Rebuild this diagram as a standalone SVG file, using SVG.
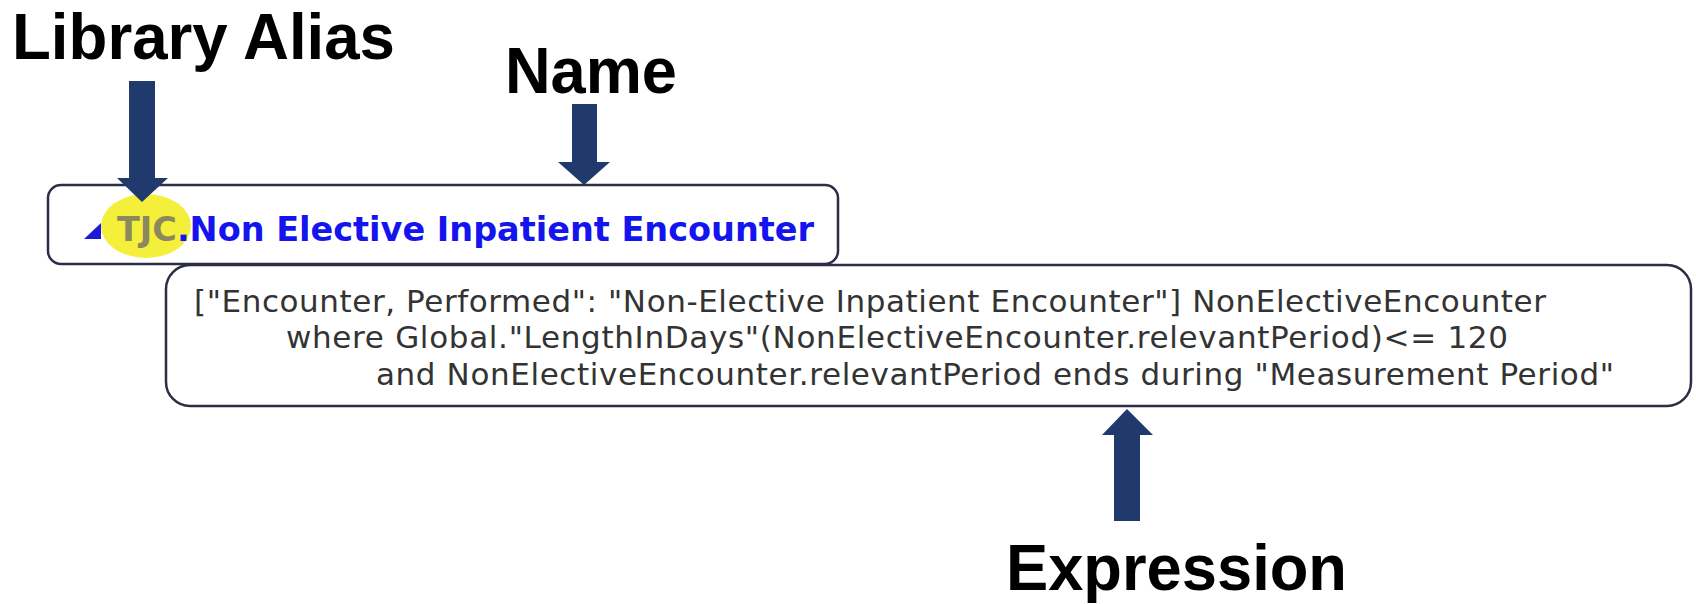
<svg xmlns="http://www.w3.org/2000/svg" width="1696" height="604" viewBox="0 0 1696 604">
  <style>
    .callout { font-family: "Liberation Sans", Arial, sans-serif; font-weight: bold; font-size: 65px; fill: #000000; }
    .box { fill: #ffffff; stroke: #2b2e44; stroke-width: 2.5; }
    .arrow { fill: #213a6e; }
    .title { font-family: "DejaVu Sans", Verdana, sans-serif; font-weight: bold; font-size: 33.5px; }
    .alias { fill: #8d875e; }
    .name { fill: #1414ee; }
    .expr { font-family: "DejaVu Sans", Verdana, sans-serif; font-size: 31px; fill: #333333; }
  </style>

  <rect x="0" y="0" width="1696" height="604" fill="#ffffff"/>

  <!-- expression body (drawn first so the definition header overlaps its top edge) -->
  <g id="expression-box">
    <rect class="box" x="166" y="265" width="1525" height="141" rx="24" ry="24"/>
    <text class="expr" x="194" y="312" textLength="1352">["Encounter, Performed": "Non-Elective Inpatient Encounter"] NonElectiveEncounter</text>
    <text class="expr" x="286" y="348" textLength="1222">where Global."LengthInDays"(NonElectiveEncounter.relevantPeriod)&lt;= 120</text>
    <text class="expr" x="376" y="385" textLength="1238">and NonElectiveEncounter.relevantPeriod ends during "Measurement Period"</text>
  </g>

  <!-- definition header: alias + name -->
  <g id="definition-box">
    <rect class="box" x="48" y="185" width="790" height="79" rx="13" ry="13"/>
    <polygon points="84,239 101,239 101,223" fill="#1a1ad8"/>
    <ellipse cx="146" cy="226" rx="45" ry="32" fill="#f4ef3a"/>
    <text class="title" x="117" y="241" textLength="697"><tspan class="alias">TJC</tspan><tspan class="name">.Non Elective Inpatient Encounter</tspan></text>
  </g>

  <!-- callout labels -->
  <g id="label-library-alias">
    <text class="callout" x="12" y="59" textLength="383" lengthAdjust="spacingAndGlyphs">Library Alias</text>
  </g>
  <g id="label-name">
    <text class="callout" x="505" y="93" textLength="172" lengthAdjust="spacingAndGlyphs">Name</text>
  </g>
  <g id="label-expression">
    <text class="callout" x="1006" y="590" style="font-size:64px" textLength="341" lengthAdjust="spacingAndGlyphs">Expression</text>
  </g>

  <!-- pointer arrows -->
  <g id="connectors">
    <polygon class="arrow" points="129,81 155,81 155,178 168,178 142,202 117,178 129,178"/>
    <polygon class="arrow" points="572,104 597,104 597,162 610,162 584,185 558,162 572,162"/>
    <polygon class="arrow" points="1114,521 1140,521 1140,435 1153,435 1127,409 1102,435 1114,435"/>
  </g>
</svg>
